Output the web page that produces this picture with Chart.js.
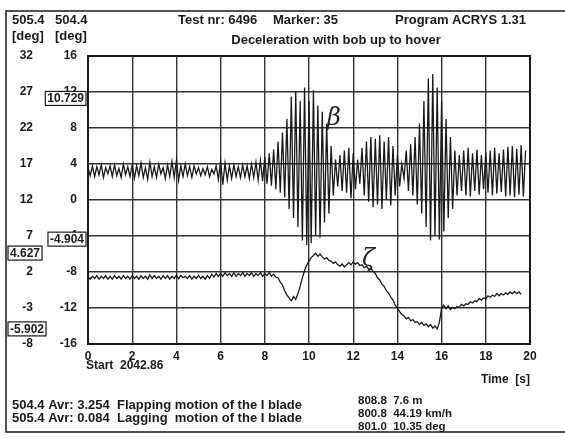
<!DOCTYPE html>
<html>
<head>
<meta charset="utf-8">
<script src="https://cdn.jsdelivr.net/npm/chart.js@4/dist/chart.umd.min.js"></script>
<style>
  html, body { margin: 0; padding: 0; background: #fff; }
  #wrap { width: 565px; height: 438px; }
</style>
</head>
<body>
<div id="wrap"><canvas id="chart" width="565" height="438"></canvas></div>
<script>
// sample spacing of the recorded signals (s)
const timeStep = 0.1;

// 504.4 - flapping angle beta [deg], one value every 0.1 s from 0 s
const betaValues = [
  3.6, 2.7, 3.8, 2.6, 3.7, 2.8, 3.9, 2.5, 3.6, 2.9,
  3.8, 2.6, 3.9, 2.7, 3.5, 2.5, 4.0, 2.8, 3.7, 2.6,
  3.9, 2.4, 3.8, 2.7, 4.1, 2.5, 3.6, 2.3, 4.2, 2.6,
  3.7, 2.5, 4.0, 2.9, 3.6, 2.4, 3.9, 2.6, 4.3, 2.5,
  4.4, 2.2, 3.8, 2.6, 4.0, 2.7, 3.7, 2.5, 3.8, 2.9,
  3.6, 2.7, 3.5, 2.8, 3.7, 2.6, 3.4, 2.9, 3.8, 2.3,
  4.3, 1.7, 4.1, 2.2, 3.8, 2.4, 3.9, 2.6, 3.7, 2.5,
  3.9, 2.6, 3.8, 2.4, 4.0, 2.5, 4.2, 2.2, 4.4, 2.1,
  4.8, 1.8, 5.2, 1.6, 5.6, 1.2, 6.5, 0.8, 7.5, 0.3,
  9.0, -1.0, 11.5, -2.0, 12.0, -3.0, 11.0, -4.5, 12.5, -5.0,
  11.0, -4.8, 12.2, -4.0, 10.5, -4.2, 9.8, -2.5, 8.5, -1.5,
  6.0, 0.5, 4.5, 1.5, 5.0, 1.0, 5.5, 0.8, 5.8, 0.2,
  5.2, 1.2, 4.5, 1.8, 5.8, 0.5, 6.5, -0.2, 7.0, -0.8,
  6.8, -0.5, 7.2, -1.0, 6.5, 0.0, 7.0, -0.6, 6.0, 0.5,
  5.0, 1.5, 4.0, 2.4, 5.5, 1.0, 6.2, 0.5, 7.0, -0.5,
  8.5, -1.5, 11.0, -3.0, 13.5, -4.5, 14.0, -4.0, 12.5, -4.4,
  11.0, -3.5, 9.0, -2.0, 7.0, -1.0, 5.5, 0.5, 5.0, 1.0,
  5.5, 0.5, 5.8, 0.4, 5.2, 1.0, 5.6, 0.6, 5.0, 1.2,
  5.3, 0.8, 5.5, 0.5, 5.8, 0.7, 5.2, 0.9, 5.6, 0.4,
  5.9, 0.5, 6.0, 0.3, 5.7, 0.6, 6.1, 0.4, 5.5
];

// 505.4 - lagging angle zeta [deg], one value every 0.1 s from 0 s
const zetaValues = [
  1.4, 1.0, 1.4, 1.1, 1.5, 1.0, 1.4, 1.1, 1.5, 1.0,
  1.4, 1.0, 1.5, 1.1, 1.4, 1.0, 1.5, 1.1, 1.4, 1.0,
  1.5, 1.1, 1.4, 1.0, 1.5, 1.1, 1.4, 1.0, 1.6, 1.1,
  1.5, 1.1, 1.4, 1.0, 1.5, 1.1, 1.5, 1.0, 1.4, 1.1,
  1.6, 1.1, 1.5, 1.2, 1.4, 1.1, 1.5, 1.0, 1.4, 1.1,
  1.5, 1.1, 1.4, 1.0, 1.5, 1.1, 1.7, 1.3, 1.8, 1.4,
  1.8, 1.4, 1.9, 1.5, 1.8, 1.4, 1.9, 1.4, 1.8, 1.5,
  1.9, 1.4, 1.8, 1.5, 1.9, 1.4, 1.8, 1.5, 1.9, 1.4,
  1.8, 1.5, 1.9, 1.4, 1.7, 1.3, 1.2, 0.6, 0.2, -0.6,
  -1.2, -1.6, -2.0, -1.4, -1.8, -1.0, 0.0, 1.2, 2.2, 3.0,
  3.5, 4.0, 4.3, 4.6, 4.2, 4.5, 4.1, 3.8, 4.0, 3.6,
  3.5, 3.2, 3.4, 3.0, 2.8, 3.1, 2.7, 3.0, 3.3, 3.0,
  3.4, 3.1, 3.3, 2.9, 3.0, 2.6, 2.8, 2.4, 2.5, 2.1,
  1.8, 1.2, 0.9, 0.3, 0.0, -0.6, -0.9, -1.5, -1.9, -2.6,
  -3.0, -3.5, -3.9, -4.1, -4.5, -4.3, -4.8, -4.6, -5.0, -4.9,
  -5.3, -5.0, -5.4, -5.2, -5.6, -5.3, -5.8, -5.5, -5.9, -5.0,
  -3.0, -2.6, -3.1, -2.7, -3.2, -2.9, -3.1, -2.8, -2.9, -2.5,
  -2.7, -2.4, -2.5, -2.1, -2.3, -2.0, -2.1, -1.7, -1.9, -1.6,
  -1.7, -1.3, -1.5, -1.2, -1.4, -1.0, -1.3, -1.0, -1.2, -0.9,
  -1.1, -0.8, -1.0, -0.7, -1.0, -0.8, -1.1
];

// cursor readouts shown in boxes next to the axes
const cursorBeta = [10.729, -4.904];
const cursorZeta = [4.627, -5.902];

// header / footer texts
const headerLine1 = ["Test nr: 6496", "Marker: 35", "Program ACRYS 1.31"];
const headerLine2 = "Deceleration with bob up to hover";
const footerLeft = [
  "504.4 Avr: 3.254  Flapping motion of the I blade",
  "505.4 Avr: 0.084  Lagging  motion of the I blade"
];
const footerRight = ["808.8  7.6 m", "800.8  44.19 km/h", "801.0  10.35 deg"];

const toPoints = (vals) => vals.map((v, i) => ({ x: +(i * timeStep).toFixed(2), y: v }));

const ink = "#1a1a1a";
const bold = (size) => "bold " + size + "px 'Liberation Sans', Arial, sans-serif";

// draws the frame, box around the plot, the texts and cursor boxes
const decorPlugin = {
  id: "decor",
  afterDraw(chart) {
    const ctx = chart.ctx;
    const area = chart.chartArea;
    ctx.save();
    ctx.strokeStyle = ink;
    ctx.fillStyle = ink;

    // outer frame
    ctx.lineWidth = 1.5;
    ctx.strokeRect(6, 11, 570, 421);

    // plot box
    ctx.lineWidth = 2;
    ctx.strokeRect(area.left, area.top, area.right - area.left, area.bottom - area.top);

    // header
    ctx.textBaseline = "middle";
    ctx.font = bold(13);
    ctx.textAlign = "left";
    ctx.fillText(headerLine1[0], 178, 20);
    ctx.fillText(headerLine1[1], 273, 20);
    ctx.fillText(headerLine1[2], 395, 20);
    ctx.textAlign = "center";
    ctx.fillText(headerLine2, 336, 40);

    // axis headers
    ctx.textAlign = "left";
    ctx.fillText("505.4", 12, 20);
    ctx.fillText("[deg]", 12, 36);
    ctx.fillText("504.4", 55, 20);
    ctx.fillText("[deg]", 55, 36);

    // x axis extras
    ctx.font = bold(12);
    ctx.fillText("Start  2042.86", 86, 366);
    ctx.textAlign = "right";
    ctx.fillText("Time  [s]", 530, 380);

    // footer
    ctx.textAlign = "left";
    ctx.font = bold(13);
    footerLeft.forEach((t, i) => ctx.fillText(t, 12, 405 + i * 13));
    ctx.font = bold(11.5);
    footerRight.forEach((t, i) => ctx.fillText(t, 358, 401 + i * 13));

    // cursor boxes
    const box = (text, rightX, leftX, cy) => {
      ctx.font = bold(12);
      const w = ctx.measureText(text).width + 4;
      const x = rightX != null ? rightX - w : leftX;
      ctx.fillStyle = "#fff";
      ctx.fillRect(x, cy - 7, w, 14);
      ctx.strokeStyle = ink;
      ctx.lineWidth = 1.2;
      ctx.strokeRect(x, cy - 7, w, 14);
      ctx.fillStyle = ink;
      ctx.textAlign = "center";
      ctx.fillText(text, x + w / 2, cy + 0.5);
    };
    const yB = chart.scales.yB;
    const yZ = chart.scales.yZ;
    cursorBeta.forEach((v) => box(v.toFixed(3), 86, null, yB.getPixelForValue(v) - 5));
    cursorZeta.forEach((v) => box(v.toFixed(3), null, 8, yZ.getPixelForValue(v)));

    // hand-written curve names
    ctx.fillStyle = "#222";
    ctx.textAlign = "left";
    ctx.font = "italic 24px 'DejaVu Serif', serif";
    ctx.fillText("\u03B2", 327, 119);
    ctx.fillText("\u03B6", 362, 260);
    ctx.restore();
  }
};

new Chart(document.getElementById("chart"), {
  type: "line",
  data: {
    datasets: [
      {
        label: "504.4",
        data: toPoints(betaValues),
        yAxisID: "yB",
        borderColor: ink,
        borderWidth: 1.3,
        pointRadius: 0,
        tension: 0,
      },
      {
        label: "505.4",
        data: toPoints(zetaValues),
        yAxisID: "yZ",
        borderColor: ink,
        borderWidth: 1.3,
        pointRadius: 0,
        tension: 0,
      },
    ],
  },
  options: {
    responsive: false,
    devicePixelRatio: 1,
    animation: false,
    layout: { padding: { left: 0, top: 56, right: 35, bottom: 74 } },
    plugins: {
      legend: { display: false },
      tooltip: { enabled: false },
    },
    scales: {
      x: {
        type: "linear",
        min: 0,
        max: 20,
        afterFit: (s) => { s.height = 20; },
        ticks: { stepSize: 2, color: ink, font: { weight: "bold", size: 12, family: "'Liberation Sans', Arial, sans-serif" }, padding: 5, maxRotation: 0 },
        grid: { color: "#333", lineWidth: 1.4, drawTicks: false },
        border: { color: ink, width: 2 },
      },
      yZ: {
        position: "left",
        weight: 1,
        min: -8,
        max: 32,
        afterFit: (s) => { s.width = 44; },
        ticks: { stepSize: 5, color: ink, font: { weight: "bold", size: 12, family: "'Liberation Sans', Arial, sans-serif" }, padding: 11 },
        grid: { display: false, drawTicks: false },
        border: { display: false },
      },
      yB: {
        position: "left",
        weight: 0,
        min: -16,
        max: 16,
        afterFit: (s) => { s.width = 44; },
        ticks: { stepSize: 4, color: ink, font: { weight: "bold", size: 12, family: "'Liberation Sans', Arial, sans-serif" }, padding: 11 },
        grid: { color: "#333", lineWidth: 1.4, drawTicks: false },
        border: { color: ink, width: 2 },
      },
    },
  },
  plugins: [decorPlugin],
});
</script>
</body>
</html>
